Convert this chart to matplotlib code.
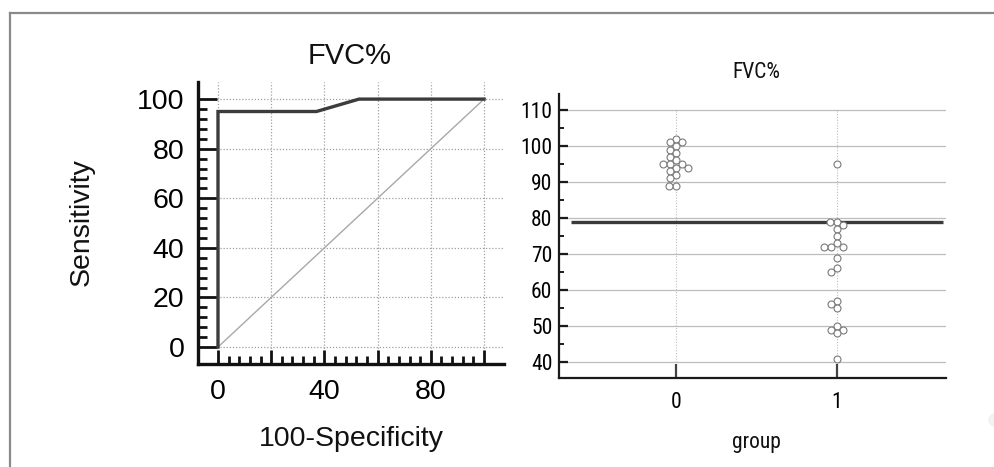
import numpy as np
import matplotlib
matplotlib.use("Agg")
import matplotlib.pyplot as plt
from matplotlib.ticker import MultipleLocator, FixedLocator, FuncFormatter
from matplotlib.lines import Line2D
from matplotlib.patches import Circle

# ---------------- data ----------------
roc_fpr = [0, 0, 37, 53, 100]          # 100-Specificity
roc_tpr = [0, 95, 95, 100, 100]        # Sensitivity
chance_x = [0, 100]
chance_y = [0, 100]
left_title = "FVC%"
left_xlabel = "100-Specificity"
left_ylabel = "Sensitivity"
left_xticklabels = [0, 40, 80]
left_yticks = [0, 20, 40, 60, 80, 100]

groups = [0, 1]
group_labels = ["0", "1"]
group0_values = [102, 101, 101, 100, 99, 98, 97, 96, 95, 95, 95, 94, 94, 93, 92, 91, 89, 89]
group1_values = [95, 79, 79, 78, 77, 75, 73, 72, 72, 72, 69, 66, 65, 57, 56, 55, 50, 49, 49, 48, 41]
cutoff = 79
right_yticks = [40, 50, 60, 70, 80, 90, 100, 110]
right_title = "FVC%"
right_xlabel = "group"

# ---------------- figure ----------------
W, H = 995, 467
fig = plt.figure(figsize=(W / 100, H / 100), dpi=100)
fig.patch.set_facecolor("white")

def fx(px):
    return px / W

def fy(py):
    return 1 - py / H

LEFT_FONT = ["Liberation Sans", "DejaVu Sans"]
RIGHT_FONT = ["Liberation Sans Narrow", "Roboto Condensed", "DejaVu Sans Condensed",
              "Liberation Sans", "DejaVu Sans"]
RS = 15.5  # right-panel font size

# outer frame (top and left edges)
fig.add_artist(Line2D([fx(10), 1.0], [fy(13), fy(13)], transform=fig.transFigure,
                      color="#8a8a8a", lw=1.6))
fig.add_artist(Line2D([fx(10), fx(10)], [fy(13), 0.0], transform=fig.transFigure,
                      color="#8a8a8a", lw=1.6))
# faint scan artefacts at the lower right
for (cxp, cyp, r) in [(1012, 420, 24), (947, 500, 38)]:
    fig.add_artist(Circle((fx(cxp), fy(cyp)), r / W, transform=fig.transFigure,
                          facecolor="#f2f2f2", edgecolor="none", zorder=-5))

# ---------------- left panel: ROC ----------------
ax1 = fig.add_axes([fx(198.3), fy(364), (504 - 198.3) / W, (364 - 82) / H])
ax1.set_xlim(-7.4, 107.5)
ax1.set_ylim(-6.85, 106.9)
for s in ["top", "right"]:
    ax1.spines[s].set_visible(False)
for s in ["left", "bottom"]:
    ax1.spines[s].set_linewidth(2.4)
    ax1.spines[s].set_color("#111111")
ax1.xaxis.set_major_locator(MultipleLocator(20))
ax1.xaxis.set_minor_locator(FixedLocator([v for v in range(0, 101, 4) if v % 20]))
ax1.yaxis.set_major_locator(FixedLocator(left_yticks))
ax1.yaxis.set_minor_locator(FixedLocator([v for v in range(0, 101, 4) if v % 20]))
ax1.xaxis.set_major_formatter(FuncFormatter(
    lambda v, p: str(int(round(v))) if int(round(v)) in left_xticklabels else ""))
ax1.tick_params(axis="x", which="major", direction="in", length=10, width=2, pad=11,
                color="#111111", labelsize=20.5)
ax1.tick_params(axis="x", which="minor", direction="in", length=5.5, width=2, color="#111111")
ax1.tick_params(axis="y", which="major", direction="in", length=13.5, width=2, pad=10,
                color="#111111", labelsize=20.5)
ax1.tick_params(axis="y", which="minor", direction="in", length=6.5, width=2, color="#111111")
for lab in ax1.get_xticklabels() + ax1.get_yticklabels():
    lab.set_family(LEFT_FONT)
ax1.grid(True, which="major", linestyle=(0, (1, 1.5)), color="#a0a0a0", lw=0.9)
ax1.set_axisbelow(True)
ax1.plot(chance_x, chance_y, color="#a8a8a8", lw=1.0, zorder=2)
ax1.plot(roc_fpr, roc_tpr, color="#3c3c3c", lw=2.4, zorder=3, solid_joinstyle="miter")

fig.text(fx(350), fy(64), left_title, ha="center", va="baseline", fontsize=21,
         family=LEFT_FONT, color="#111111")
fig.text(fx(351), fy(446), left_xlabel, ha="center", va="baseline", fontsize=20.5,
         family=LEFT_FONT, color="#111111")
fig.text(fx(82), fy(222), left_ylabel, ha="center", va="center", rotation=90, fontsize=20.5,
         family=LEFT_FONT, color="#111111")

# ---------------- right panel: dot plot ----------------
ax2 = fig.add_axes([fx(559.3), fy(378), (946 - 559.3) / W, (378 - 94) / H])
ax2.set_xlim(-0.725, 1.677)
ax2.set_ylim(35.6, 114.4)
for s in ["top", "right"]:
    ax2.spines[s].set_visible(False)
for s in ["left", "bottom"]:
    ax2.spines[s].set_linewidth(1.6)
    ax2.spines[s].set_color("#1a1a1a")
ax2.yaxis.set_major_locator(FixedLocator(right_yticks))
ax2.yaxis.set_minor_locator(FixedLocator([v + 5 for v in right_yticks[:-1]]))
ax2.set_xticks(groups)
ax2.set_xticklabels(group_labels)
ax2.tick_params(axis="y", which="major", direction="in", length=6.5, width=1.6, pad=5,
                color="#1a1a1a", labelsize=RS)
ax2.tick_params(axis="y", which="minor", direction="in", length=3.8, width=1.4, color="#1a1a1a")
ax2.tick_params(axis="x", which="major", direction="in", length=10, width=1.6, pad=10,
                color="#444444", labelsize=RS)
for lab in ax2.get_xticklabels() + ax2.get_yticklabels():
    lab.set_family(RIGHT_FONT)
ax2.grid(True, axis="y", which="major", color="#bdbdbd", lw=0.9)
ax2.set_axisbelow(True)
ax2.vlines(groups, right_yticks[0], right_yticks[-1], color="#bdbdbd", lw=0.8,
           linestyles=(0, (1, 1.5)), zorder=0)
ax2.hlines(cutoff, -0.65, 1.66, color="#3a3a3a", lw=2.4, zorder=4)


def swarm_offsets(xc_px, ys_px, d):
    """Simple beeswarm in display pixels: returns x positions."""
    order = np.argsort(-np.asarray(ys_px))
    placed = []
    xs = np.zeros(len(ys_px))
    for i in order:
        y = ys_px[i]
        cands = [xc_px]
        for (px, py) in placed:
            dy = abs(py - y)
            if dy < d:
                dx = np.sqrt(d * d - dy * dy)
                cands += [px - dx, px + dx]
        cands = sorted(cands, key=lambda c: (abs(c - xc_px), c))
        for c in cands:
            ok = all((c - px) ** 2 + (y - py) ** 2 >= d * d - 1e-6 for (px, py) in placed)
            if ok:
                xs[i] = c
                placed.append((c, y))
                break
    return xs


fig.canvas.draw()
d_px = 7.0
for g, vals in zip(groups, [group0_values, group1_values]):
    vals = np.asarray(vals, dtype=float)
    pts = ax2.transData.transform(np.column_stack([np.full(len(vals), g), vals]))
    xs_px = swarm_offsets(pts[0, 0], pts[:, 1], d_px)
    data = ax2.transData.inverted().transform(np.column_stack([xs_px, pts[:, 1]]))
    ax2.plot(data[:, 0], vals, linestyle="none", marker="o", markersize=5.0,
             markerfacecolor="white", markeredgecolor="#7a7a7a", markeredgewidth=0.8,
             zorder=5)

fig.text(fx(756), fy(78), right_title, ha="center", va="baseline", fontsize=RS,
         family=RIGHT_FONT, color="#111111")
fig.text(fx(756), fy(448), right_xlabel, ha="center", va="baseline", fontsize=RS,
         family=RIGHT_FONT, color="#111111")

fig.savefig("out.png", dpi=100, facecolor="white")
